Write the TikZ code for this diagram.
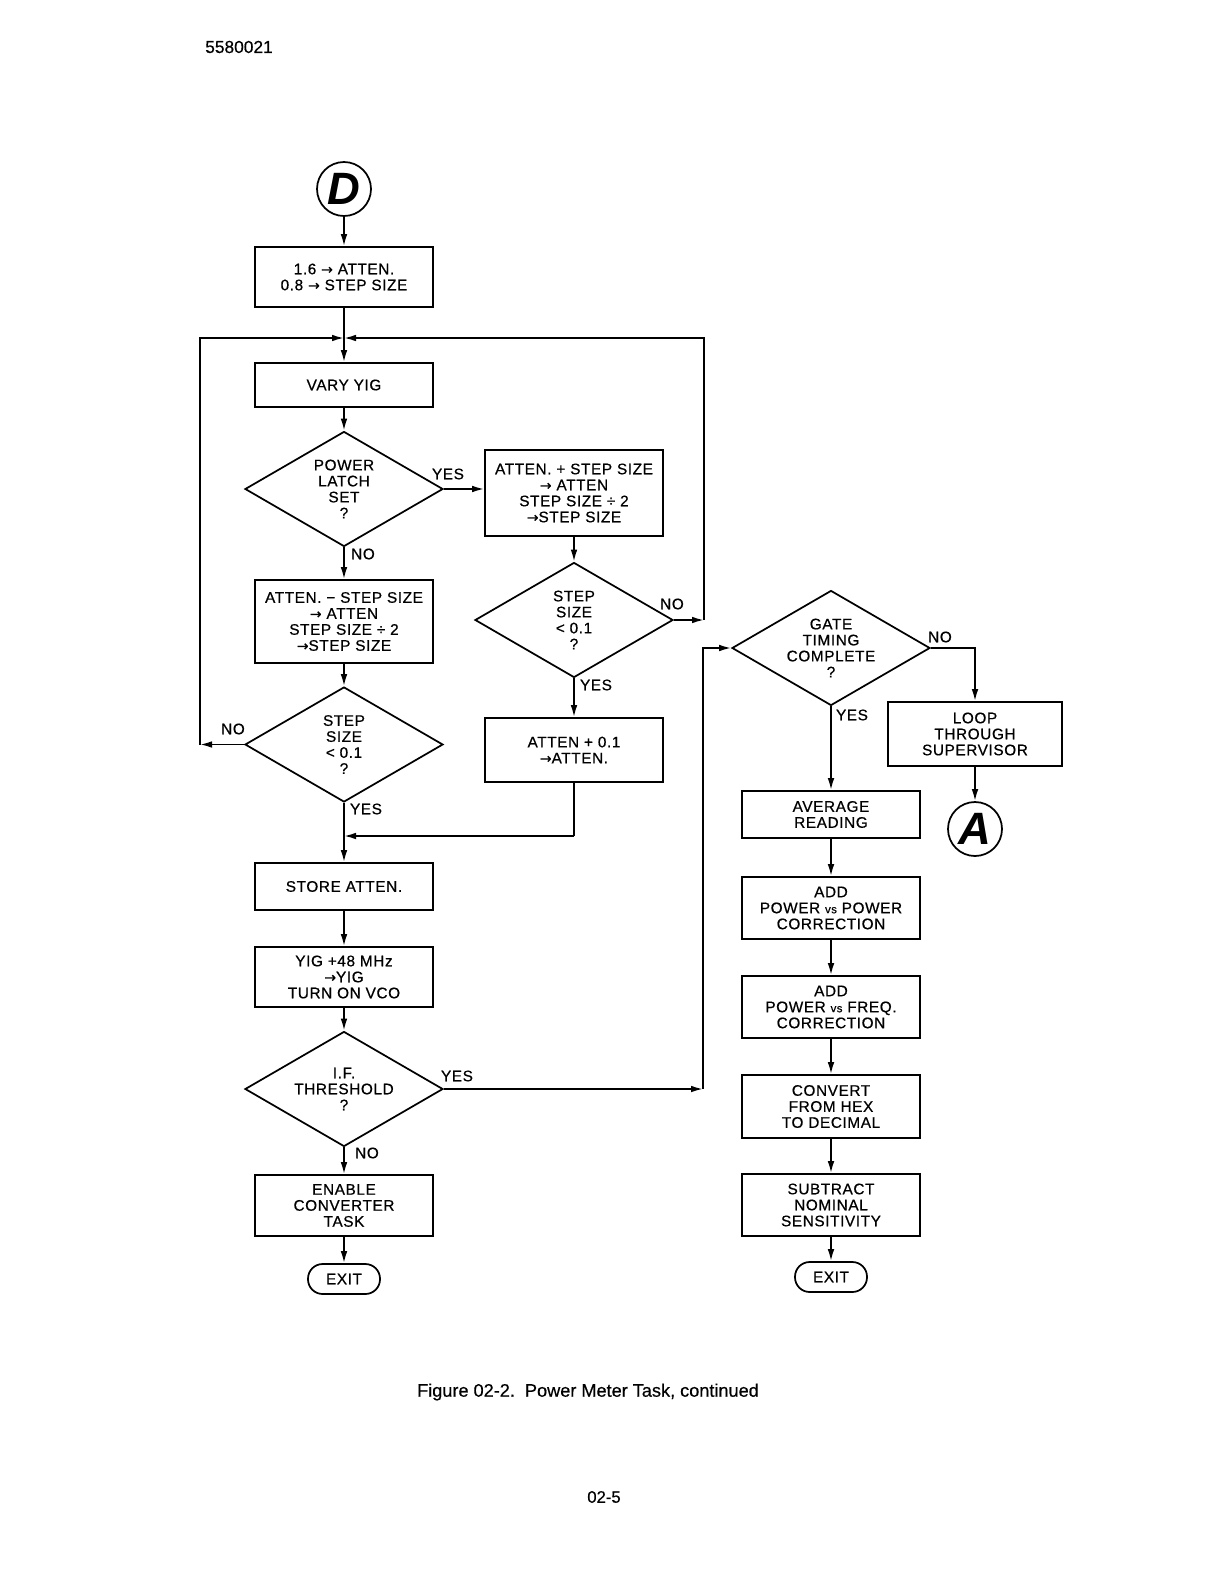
\documentclass[tikz,border=0pt]{standalone}
\usepackage{fontspec}
\setmainfont{Liberation Sans}
\newfontfamily\bx[LetterSpace=4,FakeBold=0.6]{Liberation Sans}
\newfontfamily\plain[FakeBold=0.5]{Liberation Sans}
\newfontfamily\arwfont[FakeBold=0.5]{DejaVu Sans}
\newcommand{\ar}{{\arwfont\fontsize{10.5}{10}\selectfont →}}
\newcommand{\vsm}{{\fontsize{8.5}{8.5}\selectfont vs}}
\usetikzlibrary{shapes.geometric,arrows.meta}
\begin{document}
\begin{tikzpicture}[x=0.75pt,y=-0.75pt,
  every node/.style={font=\bx\fontsize{11.5}{12}\selectfont},
  box/.style={draw,line width=1.3pt,rectangle,inner sep=0pt,align=center,minimum width=178*0.75pt},
  bh/.style={minimum height=#1*0.75pt},
  dia/.style={draw,line width=1.3pt,diamond,inner sep=0pt,aspect=1.72,align=center,minimum width=198*0.75pt,minimum height=115*0.75pt},
  term/.style={draw,line width=1.3pt,rectangle,rounded corners=11pt,inner sep=0pt,minimum width=72*0.75pt,minimum height=30*0.75pt},
  conn/.style={draw,line width=1.3pt,circle,inner sep=0pt,minimum size=54*0.75pt,font=\fontsize{34}{34}\selectfont\bfseries\itshape},
  arr/.style={line width=1.3pt,-{Latex[length=9pt,width=5pt]}},
  ln/.style={line width=1.3pt},
  lbl/.style={inner sep=0pt}]
\useasboundingbox (0,0) rectangle (1210,1577);

% header / footer
\node[lbl,font=\plain\fontsize{13}{13}\selectfont] (hdr) at (239,47) {5580021};
\node[lbl,font=\plain\fontsize{13.6}{14}\selectfont] (cap) at (588,1392) {Figure 02-2.\ \ Power Meter Task, continued};
\node[lbl,font=\plain\fontsize{12.5}{13}\selectfont] (pg) at (604,1497) {02-5};

% left column
\node[conn] (D) at (344,189) {D};
\node[box,bh=60] (b1) at (344,277) {1.6 \ar{} ATTEN.\\0.8 \ar{} STEP SIZE};
\node[box,bh=44] (vary) at (344,385) {VARY YIG};
\node[dia] (d1) at (344,489) {POWER\\LATCH\\SET\\?};
\node[box,bh=83] (b4) at (344,621.5) {ATTEN. − STEP SIZE\\\ar{} ATTEN\\STEP SIZE ÷ 2\\\ar{}STEP SIZE};
\node[dia] (d3) at (344,744.5) {STEP\\SIZE\\< 0.1\\?};
\node[box,bh=47] (store) at (344,886.5) {STORE ATTEN.};
\node[box,bh=60] (yig) at (344,977) {YIG +48 MHz\\\ar{}YIG\\TURN ON VCO};
\node[dia] (d4) at (344,1089) {I.F.\\THRESHOLD\\?};
\node[box,bh=61] (enable) at (344,1205.5) {ENABLE\\CONVERTER\\TASK};
\node[term] (exit1) at (344,1279) {EXIT};

% middle column
\node[box,bh=86] (b2) at (574,493) {ATTEN. + STEP SIZE\\\ar{} ATTEN\\STEP SIZE ÷ 2\\\ar{}STEP SIZE};
\node[dia] (d2) at (574,620) {STEP\\SIZE\\< 0.1\\?};
\node[box,bh=64] (b3) at (574,750) {ATTEN + 0.1\\\ar{}ATTEN.};

% right column
\node[dia] (d5) at (831,648) {GATE\\TIMING\\COMPLETE\\?};
\node[box,minimum width=174*0.75pt,bh=64] (loop) at (975,734) {LOOP\\THROUGH\\SUPERVISOR};
\node[conn] (A) at (975,829) {A};
\node[box,bh=47] (avg) at (831,814.5) {AVERAGE\\READING};
\node[box,bh=62] (add1) at (831,908) {ADD\\POWER \vsm{} POWER\\CORRECTION};
\node[box,bh=62] (add2) at (831,1007) {ADD\\POWER \vsm{} FREQ.\\CORRECTION};
\node[box,bh=63] (conv) at (831,1106.5) {CONVERT\\FROM HEX\\TO DECIMAL};
\node[box,bh=62] (sub) at (831,1205) {SUBTRACT\\NOMINAL\\SENSITIVITY};
\node[term] (exit2) at (831,1277) {EXIT};

% helper coordinates
\coordinate (j) at (344,338);
\coordinate (cL) at (200,744.5);
\coordinate (cR) at (704,620);
\coordinate (m) at (344,836);
\coordinate (b3c) at (574,836);
\coordinate (cG) at (703,1089);

% connectors left column
\draw[arr] (D) -- (b1);
\draw[arr] (b1) -- (vary);
\draw[arr] (vary) -- (d1);
\draw[arr] (d1) -- (b4);
\draw[arr] (b4) -- (d3);
\draw[arr] (d3) -- (store);
\draw[arr] (store) -- (yig);
\draw[arr] (yig) -- (d4);
\draw[arr] (d4) -- (enable);
\draw[arr] (enable) -- (exit1);

% loops
\draw[arr] (d3.west) -- (cL);
\draw[arr] (cL) |- (j);
\draw[arr] (d1.east) -- (d1.east -| b2.west);
\draw[arr] (b2) -- (d2);
\draw[arr] (d2.east) -- (cR);
\draw[arr] (cR) |- (j);
\draw[arr] (d2) -- (b3);
\draw[ln] (b3.south) -- (b3c);
\draw[arr] (b3c) -- (m);
\draw[arr] (d4.east) -- (cG);
\draw[arr] (cG) |- (d5.west);

% right column connectors
\draw[arr] (d5.east) -| (loop.north);
\draw[arr] (loop) -- (A);
\draw[arr] (d5) -- (avg);
\draw[arr] (avg) -- (add1);
\draw[arr] (add1) -- (add2);
\draw[arr] (add2) -- (conv);
\draw[arr] (conv) -- (sub);
\draw[arr] (sub) -- (exit2);

% branch labels
\node[lbl] (y1) at (448,474) {YES};
\node[lbl] (n1) at (363,554) {NO};
\node[lbl] (n2) at (672,604) {NO};
\node[lbl] (y2) at (596,685) {YES};
\node[lbl] (n3) at (233,729) {NO};
\node[lbl] (y3) at (366,809) {YES};
\node[lbl] (y4) at (457,1076) {YES};
\node[lbl] (n4) at (367,1153) {NO};
\node[lbl] (n5) at (940,637) {NO};
\node[lbl] (y5) at (852,715) {YES};
\end{tikzpicture}
\end{document}
